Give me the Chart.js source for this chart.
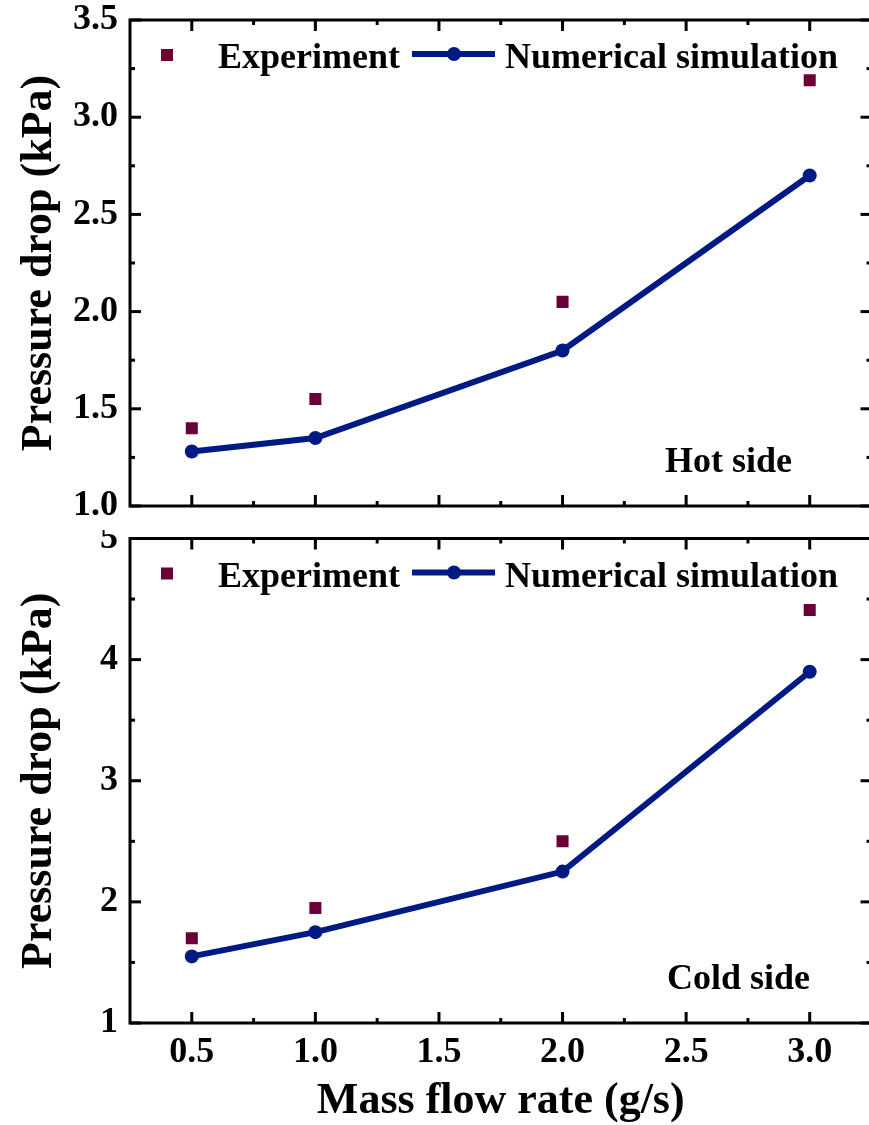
<!DOCTYPE html>
<html>
<head>
<meta charset="utf-8">
<script src="https://cdn.jsdelivr.net/npm/chart.js@4/dist/chart.umd.min.js"></script>
<style>
  html, body { margin: 0; padding: 0; overflow: hidden; background: #fff; }
  #wrap { position: relative; width: 869px; height: 1125px; overflow: hidden; }
  canvas { position: absolute; left: 0; }
  #hotCanvas { top: 0; }
  #coldCanvas { top: 530px; }
</style>
</head>
<body>
<div id="wrap">
  <canvas id="hotCanvas" width="880" height="530"></canvas>
  <canvas id="coldCanvas" width="880" height="595"></canvas>
</div>
<script>
// Mass flow rate (g/s)
const massFlow = [0.5, 1.0, 2.0, 3.0];

// Hot side pressure drop (kPa)
const hotExperiment = [1.40, 1.55, 2.05, 3.19];
const hotSimulation = [1.28, 1.35, 1.80, 2.70];

// Cold side pressure drop (kPa)
const coldExperiment = [1.70, 1.95, 2.50, 4.41];
const coldSimulation = [1.55, 1.75, 2.25, 3.90];

// Tick values
const xTickValues = [0.5, 1.0, 1.5, 2.0, 2.5, 3.0];
const hotYTicks = [1.0, 1.5, 2.0, 2.5, 3.0, 3.5];
const coldYTicks = [1, 2, 3, 4, 5];

const seriesLabels = ['Experiment', 'Numerical simulation'];
const panelLabels = ['Hot side', 'Cold side'];

const FONT = '"Liberation Serif", "Times New Roman", serif';
const EXP_COLOR = '#690038';
const SIM_COLOR = '#001a84';

function pts(xs, ys) { return xs.map((x, i) => ({ x: x, y: ys[i] })); }
function mids(arr) { const m = []; for (let i = 0; i < arr.length - 1; i++) m.push((arr[i] + arr[i + 1]) / 2); return m; }

// Closed frame with inward-pointing major and minor ticks on all four sides
const frameTicks = {
  id: 'frameTicks',
  afterDatasetsDraw(chart, args, opts) {
    const { ctx, chartArea: a, scales: { x, y } } = chart;
    ctx.save();
    ctx.strokeStyle = '#000';
    ctx.lineWidth = 3;
    ctx.lineCap = 'butt';
    ctx.strokeRect(a.left, a.top, a.right - a.left, a.bottom - a.top);
    const seg = (x1, y1, x2, y2) => { ctx.beginPath(); ctx.moveTo(x1, y1); ctx.lineTo(x2, y2); ctx.stroke(); };
    const xt = (v, len) => { const p = x.getPixelForValue(v); seg(p, a.bottom, p, a.bottom - len); seg(p, a.top, p, a.top + len); };
    const yt = (v, len) => { const p = y.getPixelForValue(v); seg(a.left, p, a.left + len, p); seg(a.right, p, a.right - len, p); };
    opts.xMajor.forEach(v => xt(v, 11));
    mids(opts.xMajor).forEach(v => xt(v, 5));
    opts.yMajor.forEach(v => yt(v, 11));
    mids(opts.yMajor).forEach(v => yt(v, 5));
    ctx.restore();
  }
};

// In-plot legend and panel caption
const legendCaption = {
  id: 'legendCaption',
  afterDraw(chart, args, opts) {
    const { ctx, chartArea: a } = chart;
    const exp = chart.data.datasets[0];
    const sim = chart.data.datasets[1];
    ctx.save();
    ctx.font = 'bold 36px ' + FONT;
    ctx.fillStyle = '#000';
    ctx.textBaseline = 'alphabetic';
    ctx.textAlign = 'left';
    const cy = a.top + 35;
    // Experiment marker
    ctx.fillStyle = exp.backgroundColor;
    ctx.fillRect(a.left + 37 - 6, cy - 6, 12, 12);
    ctx.fillStyle = '#000';
    ctx.fillText(exp.label, a.left + 88, a.top + 48);
    // Simulation line + marker
    ctx.strokeStyle = sim.borderColor;
    ctx.lineWidth = sim.borderWidth;
    ctx.beginPath();
    ctx.moveTo(a.left + 282, cy - 1);
    ctx.lineTo(a.left + 365, cy - 1);
    ctx.stroke();
    ctx.fillStyle = sim.pointBackgroundColor;
    ctx.beginPath();
    ctx.arc(a.left + 324, cy - 1, 7, 0, Math.PI * 2);
    ctx.fill();
    ctx.fillStyle = '#000';
    ctx.fillText(sim.label, a.left + 375, a.top + 48);
    // Panel caption
    ctx.fillText(opts.caption, opts.captionX, a.bottom - 34);
    ctx.restore();
  }
};

function makePanel(canvasId, expData, simData, yTicks, yDigits, caption, captionX, showX) {
  const tickFont = { family: FONT, size: 36, weight: 'bold' };
  const titleFont = { family: FONT, size: 44, weight: 'bold', lineHeight: 1 };
  return new Chart(document.getElementById(canvasId), {
    type: 'line',
    data: {
      datasets: [
        {
          label: seriesLabels[0],
          data: pts(massFlow, expData),
          showLine: false,
          pointStyle: 'rect',
          pointRadius: 8.5,
          pointBorderWidth: 0,
          backgroundColor: EXP_COLOR,
          borderColor: EXP_COLOR,
          pointBackgroundColor: EXP_COLOR
        },
        {
          label: seriesLabels[1],
          data: pts(massFlow, simData),
          borderColor: SIM_COLOR,
          backgroundColor: SIM_COLOR,
          pointBackgroundColor: SIM_COLOR,
          pointBorderColor: SIM_COLOR,
          borderWidth: 6,
          pointRadius: 7,
          pointBorderWidth: 0,
          tension: 0
        }
      ]
    },
    options: {
      responsive: false,
      animation: false,
      devicePixelRatio: 1,
      layout: { padding: showX ? { top: 4, right: 6, bottom: 0, left: 0 } : { top: 20, right: 6, bottom: 24, left: 0 } },
      plugins: {
        legend: { display: false },
        tooltip: { enabled: false },
        frameTicks: { xMajor: xTickValues, yMajor: yTicks },
        legendCaption: { caption: caption, captionX: captionX }
      },
      scales: {
        x: {
          type: 'linear',
          min: 0.25,
          max: 3.25,
          display: showX,
          afterBuildTicks: s => { s.ticks = xTickValues.map(v => ({ value: v })); },
          afterFit: s => {
            if (showX) s.height = 102;
            s.paddingLeft = 0; s.paddingRight = 0;
          },
          grid: { display: false, drawTicks: false },
          border: { display: false },
          ticks: { font: tickFont, color: '#000', padding: 8, maxRotation: 0, callback: v => Number(v).toFixed(1) },
          title: { display: showX, text: 'Mass flow rate (g/s)', font: titleFont, color: '#000', padding: { top: 0, bottom: 1 } }
        },
        y: {
          type: 'linear',
          min: yTicks[0],
          max: yTicks[yTicks.length - 1],
          afterBuildTicks: s => { s.ticks = yTicks.map(v => ({ value: v })); },
          afterFit: s => {
            s.width = 130;
            s.paddingTop = 0; s.paddingBottom = 0;
          },
          grid: { display: false, drawTicks: false },
          border: { display: false },
          ticks: { font: tickFont, color: '#000', padding: 12, callback: v => Number(v).toFixed(yDigits) },
          title: { display: true, text: 'Pressure drop (kPa)', font: titleFont, color: '#000', padding: { top: 18, bottom: 0 } }
        }
      }
    },
    plugins: [frameTicks, legendCaption]
  });
}

makePanel('hotCanvas', hotExperiment, hotSimulation, hotYTicks, 1, panelLabels[0], 665, false);
makePanel('coldCanvas', coldExperiment, coldSimulation, coldYTicks, 0, panelLabels[1], 667, true);
</script>
</body>
</html>
